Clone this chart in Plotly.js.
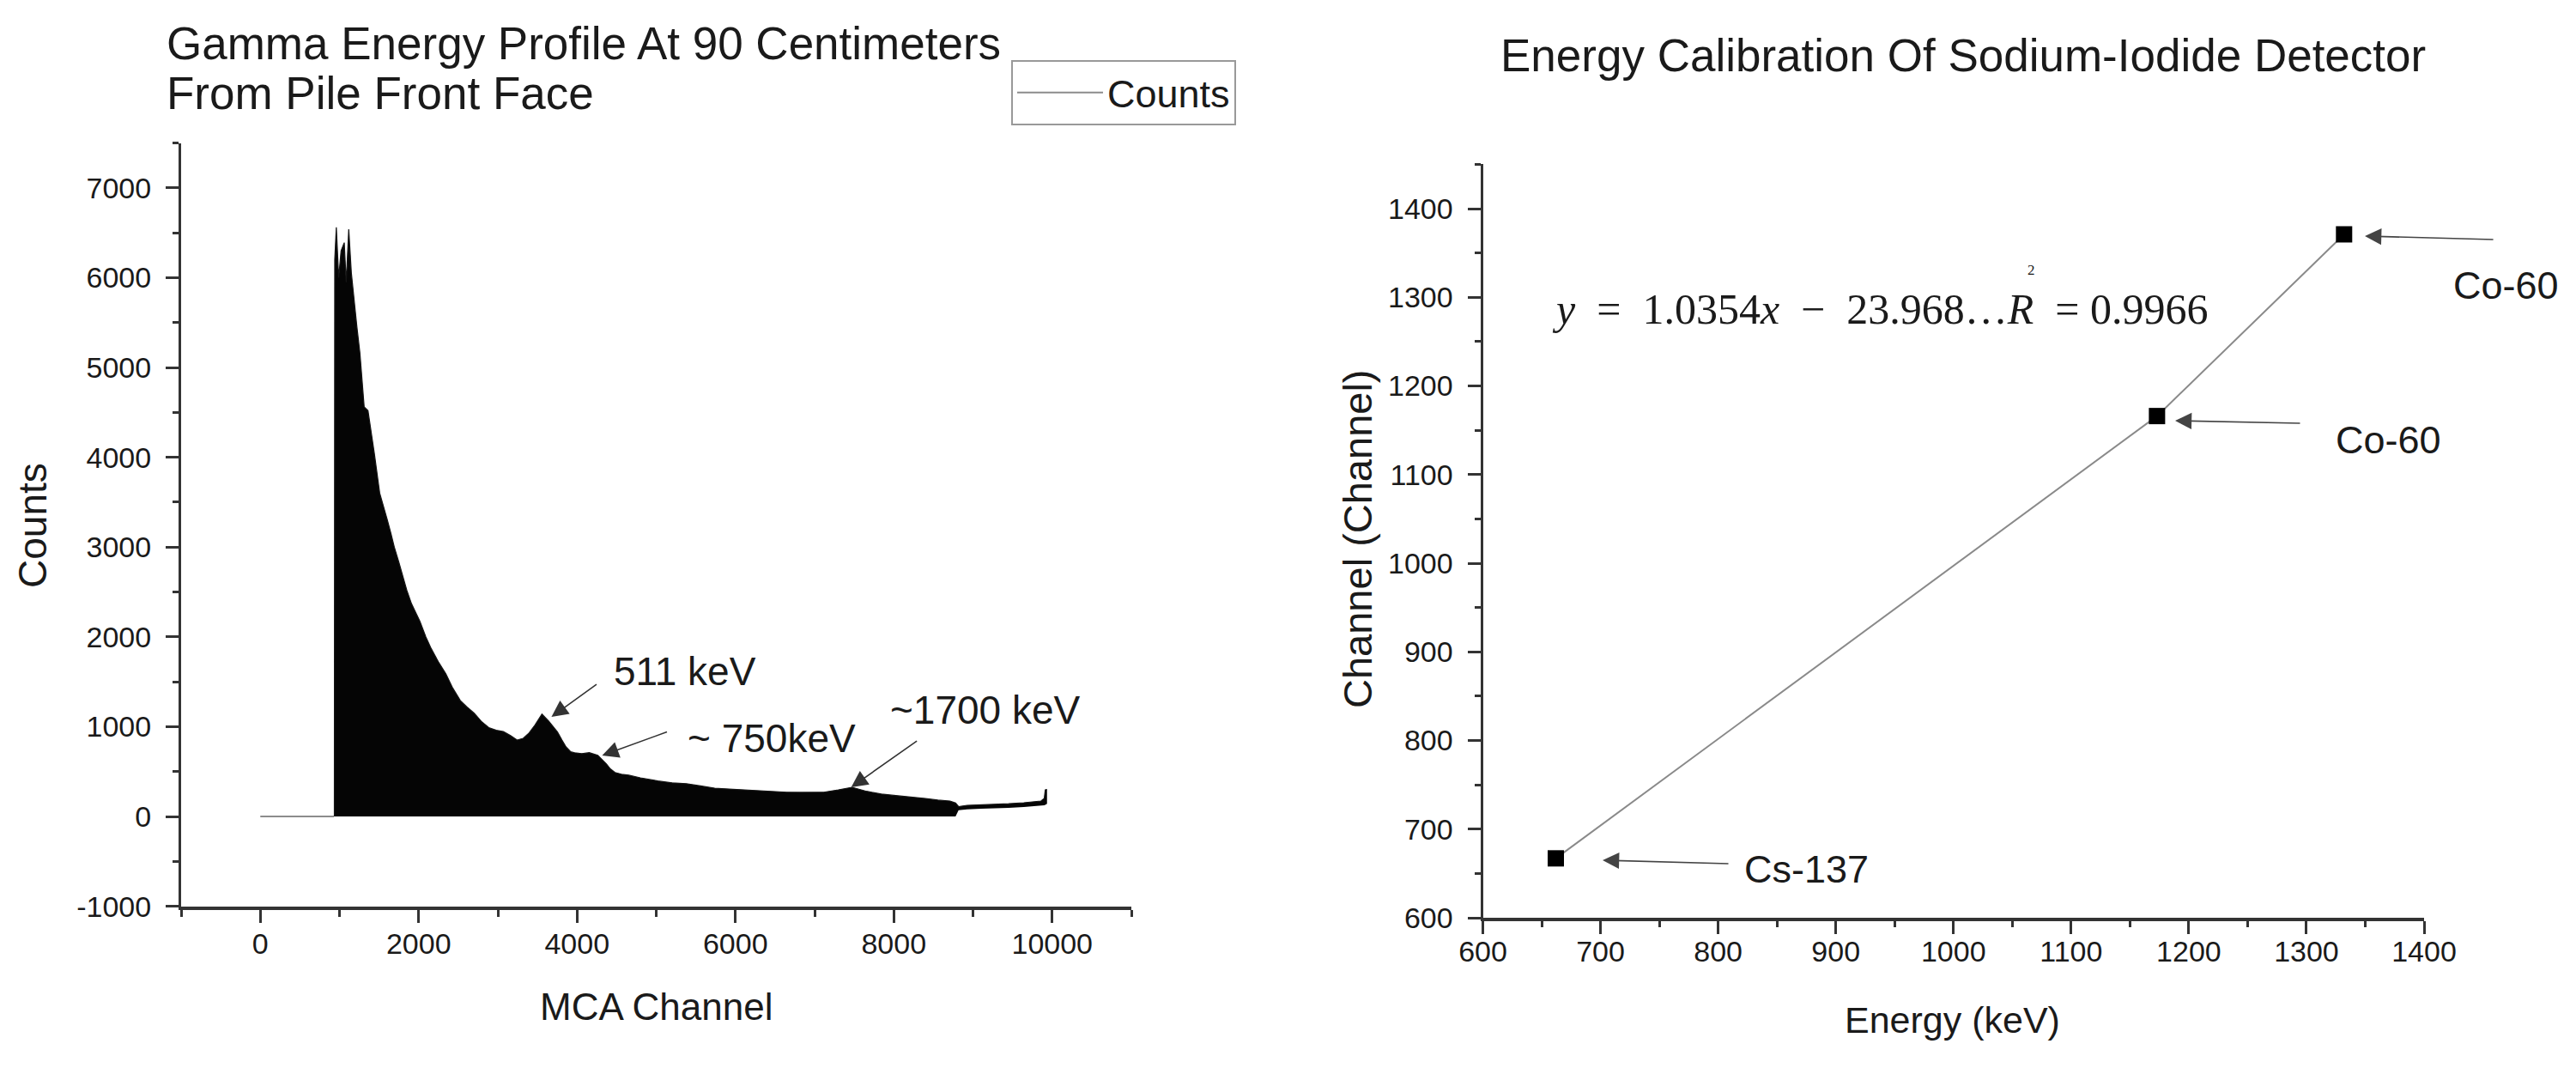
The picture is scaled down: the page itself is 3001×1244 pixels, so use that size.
<!DOCTYPE html>
<html>
<head>
<meta charset="utf-8">
<script src="https://cdn.plot.ly/plotly-3.0.1.min.js"></script>
<style>
  body { margin: 0; background: #fff; overflow: hidden; }
  #chart { width: 3001px; height: 1244px; }
</style>
</head>
<body>
<div id="chart"></div>
<script>
/* SPECTRUM DATA (left panel) */
// channels before the spectrum starts, all zero counts
const flatChannel = [0, 930];
const flatCounts = [0, 0];

// upper edge of the dense spectrum
const specChannel = [
  935, 940, 960, 990, 1020, 1060, 1085, 1117, 1150, 1182,
  1220, 1258, 1290, 1312, 1360, 1400, 1442, 1508, 1560, 1605,
  1650, 1692, 1750, 1800, 1850, 1909, 1960, 2017, 2090, 2158,
  2250, 2343, 2430, 2527, 2610, 2701, 2790, 2885, 2980, 3069,
  3160, 3243, 3320, 3395, 3470, 3557, 3644, 3700, 3753, 3810,
  3861, 3920, 3970, 4060, 4154, 4262, 4320, 4371, 4420, 4479,
  4560, 4653, 4800, 5022, 5200, 5380, 5560, 5738, 5920, 6106,
  6300, 6464, 6650, 6822, 7000, 7115, 7299, 7473, 7657, 7842,
  8000, 8200, 8400, 8557, 8709, 8780, 8818, 8926, 9100, 9284,
  9450, 9642, 9800, 9859, 9900, 9913, 9935
];
const specUpper = [
  0, 6200, 6560, 6000, 6300, 6390, 5950, 6540, 6050, 5750,
  5450, 5160, 4800, 4560, 4520, 4300, 4030, 3600, 3450, 3300,
  3150, 3000, 2830, 2670, 2520, 2370, 2270, 2170, 2000, 1870,
  1720, 1590, 1430, 1290, 1220, 1150, 1060, 990, 960, 945,
  900, 850, 870, 930, 1020, 1140, 1060, 1000, 940, 850,
  775, 720, 710, 700, 710, 680, 630, 585, 530, 490,
  470, 460, 430, 395, 375, 365, 340, 315, 305, 296,
  285, 277, 270, 268, 272, 270, 296, 325, 280, 250,
  235, 220, 200, 182, 172, 150, 110, 124, 128, 134,
  142, 153, 165, 172, 200, 296, 300
];
// lower edge: the noise reaches zero until ~8800, then it lifts off
const specLower = [
  0, 0, 0, 0, 0, 0, 0, 0, 0, 0,
  0, 0, 0, 0, 0, 0, 0, 0, 0, 0,
  0, 0, 0, 0, 0, 0, 0, 0, 0, 0,
  0, 0, 0, 0, 0, 0, 0, 0, 0, 0,
  0, 0, 0, 0, 0, 0, 0, 0, 0, 0,
  0, 0, 0, 0, 0, 0, 0, 0, 0, 0,
  0, 0, 0, 0, 0, 0, 0, 0, 0, 0,
  0, 0, 0, 0, 0, 0, 0, 0, 0, 0,
  0, 0, 0, 0, 0, 0, 70, 80, 85, 88,
  95, 105, 115, 120, 125, 130, 140
];

// peak labels and where their arrows point (channel, counts)
const peakLabels = ["511 keV", "~ 750keV", "~1700 keV"];
const peakChannel = [3677, 4317, 7462];
const peakCounts = [1109, 679, 325];

// left axis ticks
const countTicks = [-1000, 0, 1000, 2000, 3000, 4000, 5000, 6000, 7000];
const countTickText = ["-1000", "0", "1000", "2000", "3000", "4000", "5000", "6000", "7000"];
const channelTicks = [0, 2000, 4000, 6000, 8000, 10000];
const channelTickText = ["0", "2000", "4000", "6000", "8000", "10000"];

/* CALIBRATION DATA (right panel) */
const calEnergy = [662, 1173, 1332];
const calChannel = [667, 1166, 1371];
const calLabels = ["Cs-137", "Co-60", "Co-60"];
// where the label arrows point (energy, channel)
const calArrowX = [701.8, 1188.4, 1349.7];
const calArrowY = [664.9, 1160.8, 1369];

/* HELPERS */
const W = 3001, H = 1244;
const FONT = "Liberation Sans, Arial, sans-serif";
const INK = "#1a1a1a";
const px = x => x / W;          // pixel -> paper x
const py = y => 1 - y / H;      // pixel -> paper y

function axisStyle(extra) {
  let base = {
    showgrid: false,
    zeroline: false,
    showline: true,
    linecolor: "#333",
    ticks: "outside",
    ticklen: 15,
    tickwidth: 3,
    tickcolor: "#333",
    tickfont: {family: FONT, size: 34, color: INK},
    fixedrange: true
  };
  return Object.assign(base, extra);
}

// plain text placed in paper pixels
function label(text, x, y, size, extra) {
  return Object.assign({
    xref: "paper", yref: "paper", x: px(x), y: py(y),
    xanchor: "center", yanchor: "middle", showarrow: false,
    text: text,
    font: {family: FONT, size: size, color: INK}
  }, extra || {});
}

/* TRACES */
let traces = [
  {
    type: "scatter", mode: "lines",
    x: flatChannel, y: flatCounts,
    name: "Counts",
    line: {color: "#8c8c8c", width: 2},
    xaxis: "x", yaxis: "y"
  },
  {
    type: "scatter", mode: "lines",
    x: specChannel, y: specLower,
    line: {color: "#111", width: 0},
    showlegend: false, hoverinfo: "skip",
    xaxis: "x", yaxis: "y"
  },
  {
    type: "scatter", mode: "lines",
    x: specChannel, y: specUpper,
    fill: "tonexty", fillcolor: "#050505",
    line: {color: "#151515", width: 1.2},
    showlegend: false,
    xaxis: "x", yaxis: "y"
  },
  {
    type: "scatter", mode: "lines+markers",
    x: calEnergy, y: calChannel,
    line: {color: "#8a8a8a", width: 2},
    marker: {symbol: "square", size: 19, color: "#000"},
    showlegend: false,
    xaxis: "x2", yaxis: "y2"
  }
];

/* ANNOTATIONS */
let annotations = [];

// titles
annotations.push(label("Gamma Energy Profile At 90 Centimeters", 192, 50, 53, {xanchor: "left"}));
annotations.push(label("From Pile Front Face", 192, 109, 53, {xanchor: "left"}));
annotations.push(label("Energy Calibration Of Sodium-Iodide Detector", 2287, 64, 53));

// axis titles
annotations.push(label("MCA Channel", 764, 1172, 44));
annotations.push(label("Counts", 38, 612, 46, {textangle: -90}));
annotations.push(label("Energy (keV)", 2274, 1188, 43));
annotations.push(label("Channel (Channel)", 1582, 628, 47, {textangle: -90}));

// peak arrows (head on the data, tail in pixels)
const peakTail = [[54, -39], [77, -28], [78, -55]];
const peakTextPos = [[798, 782], [899, 860], [1148, 827]];
for (let i = 0; i < peakLabels.length; i++) {
  annotations.push({
    xref: "x", yref: "y", x: peakChannel[i], y: peakCounts[i],
    ax: peakTail[i][0], ay: peakTail[i][1], text: "",
    showarrow: true, arrowhead: 2, arrowsize: 2.4, arrowwidth: 1.6,
    arrowcolor: "#333"
  });
  annotations.push(label(peakLabels[i], peakTextPos[i][0], peakTextPos[i][1], 46));
}

// calibration point arrows and labels
const calTail = [[148, 4], [147, 3], [151, 4]];
const calTextPos = [[2104, 1012], [2782, 512], [2919, 333]];
for (let i = 0; i < calLabels.length; i++) {
  annotations.push({
    xref: "x2", yref: "y2", x: calArrowX[i], y: calArrowY[i],
    ax: calTail[i][0], ay: calTail[i][1], text: "",
    showarrow: true, arrowhead: 2, arrowsize: 2.4, arrowwidth: 1.6,
    arrowcolor: "#444"
  });
  annotations.push(label(calLabels[i], calTextPos[i][0], calTextPos[i][1], 45));
}

// fit equation
const SERIF = "Liberation Serif, Times New Roman, serif";
const s1 = "\u00a0", s2 = "\u00a0\u00a0";
annotations.push(label(
  "<i>y</i>" + s2 + "=" + s2 + "1.0354<i>x</i>" + s2 + "\u2212" + s2 +
  "23.968\u2026<i>R</i>" + s2 + "=" + s1 + "0.9966",
  2190, 360, 50, {font: {family: SERIF, size: 50, color: INK}}));
annotations.push(label("2", 2366, 315, 17, {font: {family: SERIF, size: 17, color: INK}}));

/* LAYOUT */
let layout = {
  width: W,
  height: H,
  margin: {l: 0, r: 0, t: 0, b: 0},
  paper_bgcolor: "#fff",
  plot_bgcolor: "rgba(0,0,0,0)",
  font: {family: FONT, color: INK},
  showlegend: true,
  legend: {
    x: px(1178), y: py(70), xanchor: "left", yanchor: "top",
    bgcolor: "#fff", bordercolor: "#999", borderwidth: 2,
    font: {family: FONT, size: 45, color: INK},
    itemwidth: 100
  },
  xaxis: axisStyle({
    domain: [px(211), px(1318)],
    range: [-1000, 11000],
    tickmode: "array", tickvals: channelTicks, ticktext: channelTickText,
    linewidth: 4,
    ticklabelstandoff: -4,
    minor: {ticks: "outside", ticklen: 8, tickwidth: 3, tickcolor: "#333", dtick: 1000},
    anchor: "y"
  }),
  yaxis: axisStyle({
    domain: [py(1055.6), py(166.5)],
    range: [-1000, 7500],
    tickmode: "array", tickvals: countTicks, ticktext: countTickText,
    linewidth: 3,
    ticklabelstandoff: 10,
    minor: {ticks: "outside", ticklen: 7, tickwidth: 3, tickcolor: "#333", tick0: 0, dtick: 500},
    anchor: "x"
  }),
  xaxis2: axisStyle({
    domain: [px(1727.5), px(2824)],
    range: [600, 1400],
    tick0: 600, dtick: 100,
    linewidth: 4,
    ticklabelstandoff: -9,
    minor: {ticks: "outside", ticklen: 7, tickwidth: 3, tickcolor: "#333", dtick: 50},
    anchor: "y2"
  }),
  yaxis2: axisStyle({
    domain: [py(1069), py(191.4)],
    range: [600, 1450],
    tick0: 600, dtick: 100,
    linewidth: 3,
    ticklabelstandoff: 10,
    minor: {ticks: "outside", ticklen: 7, tickwidth: 3, tickcolor: "#333", dtick: 50},
    anchor: "x2"
  }),
  annotations: annotations
};

Plotly.newPlot("chart", traces, layout, {staticPlot: true, displayModeBar: false});
</script>
</body>
</html>
